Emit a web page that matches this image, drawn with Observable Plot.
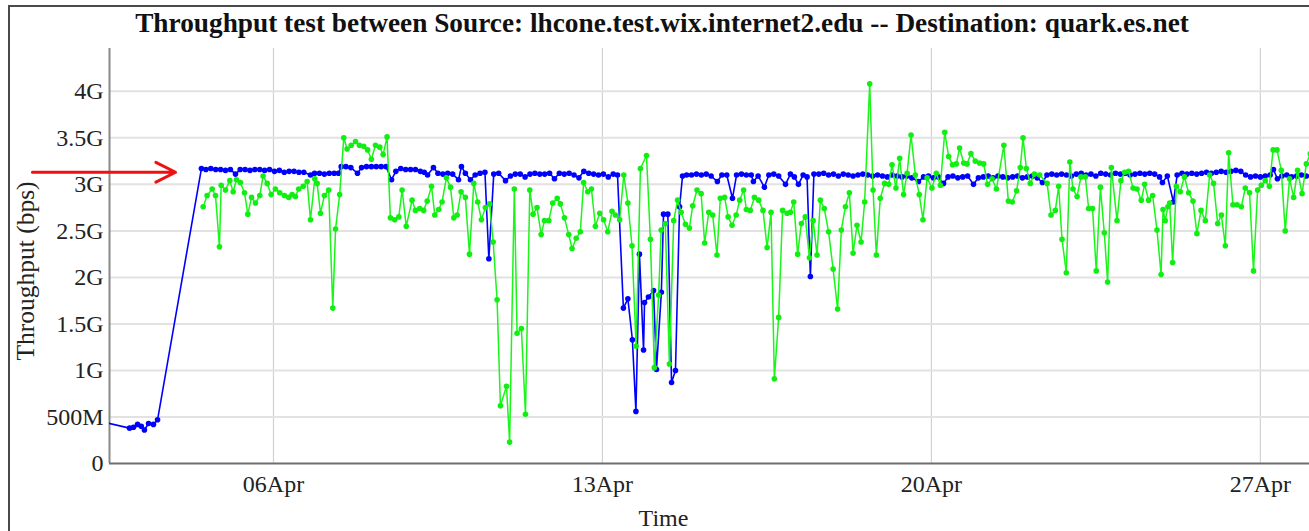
<!DOCTYPE html>
<html>
<head>
<meta charset="utf-8">
<script src="https://cdn.jsdelivr.net/npm/d3@7"></script>
<script src="https://cdn.jsdelivr.net/npm/@observablehq/plot@0.6"></script>
<style>
  html, body { margin: 0; padding: 0; background: #fff; }
  body { width: 1309px; height: 531px; position: relative; overflow: hidden; font-family: "Liberation Serif", "Times New Roman", serif; }
  #title { position: absolute; left: 0; top: 3px; width: 1324px; height: 40px; line-height: 40px; text-align: center;
           font-weight: bold; font-size: 27.3px; color: #111; white-space: nowrap; }
  #chart { position: absolute; left: 0; top: 40px; }
  #frame { position: absolute; left: 8px; top: 5px; width: 1400px; height: 524px; border-left: 2px solid #4a4a4a;
           border-top: 2px solid #4a4a4a; border-bottom: 1px solid #d8d8d8; pointer-events: none; }
</style>
</head>
<body>
<div id="title">Throughput test between Source: lhcone.test.wix.internet2.edu -- Destination: quark.es.net</div>
<div id="chart"></div>
<div id="frame"></div>
<script>
// Time origin: 02 Apr 00:00 (UTC). Every observation is [hours since origin, throughput in Gbps].
const originDate = "2019-04-02T00:00:00Z";
const visibleHours = [12.26, 625.1];

// Blue series (one direction)
const blueSeries = [
  [8,0.45],[22.5,0.38],[24.5,0.39],[26.6,0.42],[28.5,0.40],[30.1,0.36],[32.2,0.43],[34.7,0.42],[36.8,0.47],
  [59.2,3.17],[61.5,3.16],[64,3.17],[66.5,3.16],[69,3.16],[71.5,3.15],[74,3.16],[76.6,3.11],[79,3.16],[81.5,3.16],
  [84,3.15],[86.5,3.16],[89,3.16],[91.5,3.15],[94,3.16],[96.5,3.14],[99,3.15],[101.5,3.13],[104,3.14],[106.5,3.14],
  [109,3.13],[111.5,3.13],[114.9,3.10],[117,3.12],[119.5,3.12],[122,3.11],[124.5,3.12],[127,3.12],[129.2,3.12],[130.6,3.19],
  [133,3.19],[135.5,3.18],[138.9,3.12],[141,3.18],[143.5,3.19],[146,3.19],[148.5,3.19],[151,3.19],[153.5,3.19],[156.3,3.05],
  [158.5,3.14],[161,3.17],[163.5,3.16],[166,3.16],[168.5,3.16],[171,3.14],[173,3.13],[174.7,3.10],[177.7,3.18],[180,3.12],
  [182.5,3.11],[185,3.12],[187.5,3.11],[190.5,3.05],[192,3.19],[194,3.12],[196.6,3.05],[199,3.10],[201.5,3.12],[204,3.13],
  [206,2.20],[208.5,3.11],[211,3.12],[214.5,3.04],[217,3.09],[219.5,3.11],[222,3.11],[224.5,3.08],[227,3.11],[229.5,3.12],
  [232,3.11],[234.5,3.11],[237,3.12],[239.5,3.06],[242,3.12],[244.5,3.11],[247,3.12],[249.5,3.10],[252,3.07],[254.5,3.14],
  [257,3.12],[259.5,3.11],[262,3.10],[264.5,3.11],[267,3.08],[269.5,3.11],[271.7,3.10],
  [274.7,1.67],[277,1.77],[279.3,1.33],[281.1,0.56],[282.9,2.25],[285,1.22],[285.5,1.73],[287.5,1.79],[290.1,1.86],
  [291.6,1.01],[294.1,1.84],[295.2,2.68],[297.4,2.68],[299.3,0.87],[301.3,1.00],[303.4,2.76],[304.9,3.09],
  [307,3.10],[309.5,3.10],[312,3.11],[314.5,3.10],[317,3.11],[319.5,3.09],[322.7,3.03],[325,3.10],[327.5,3.10],[330.4,2.85],
  [332.5,3.10],[335,3.11],[337.5,3.10],[340,3.10],[341.1,3.03],[343.5,3.09],[346.7,2.97],[349,3.10],[351.5,3.11],[354,3.09],
  [357.5,3.00],[360,3.11],[362,3.08],[364.1,3.00],[366.5,3.10],[368.5,3.08],[370.2,2.01],[372,3.11],[374.5,3.11],[377,3.12],
  [379.5,3.10],[382,3.11],[384.5,3.09],[387,3.11],[389.5,3.10],[392,3.09],[394.5,3.10],[397,3.11],[399.5,3.10],[402,3.09],
  [404.5,3.10],[407,3.09],[409.5,3.08],[412,3.10],[414.5,3.09],[417,3.08],[419.5,3.09],[422,3.07],[425.4,3.03],[428,3.08],
  [430.5,3.09],[433,3.07],[435.5,3.08],[438.2,3.01],[440.5,3.08],[443,3.09],[445.5,3.07],[448,3.08],[450.5,3.09],[453.5,3.00],
  [456,3.07],[458.5,3.08],[461,3.09],[463.5,3.07],[466,3.09],[468.5,3.08],[471,3.07],[473.5,3.08],[476,3.09],[478.5,3.07],
  [481,3.08],[483.5,3.09],[486,3.07],[488.7,3.02],[491,3.10],[493.5,3.11],[496,3.10],[498.5,3.11],[501,3.10],[503.5,3.09],
  [506,3.11],[508.5,3.12],[511,3.10],[513.5,3.11],[516,3.09],[518.5,3.12],[521,3.11],[523.5,3.10],[526,3.12],[528.5,3.11],
  [531,3.12],[533.5,3.10],[536,3.11],[538.5,3.12],[541,3.11],[543.5,3.12],[546,3.11],[548.5,3.08],[550,3.02],[552.5,3.09],
  [555.6,2.81],[557.5,3.10],[560,3.12],[562.5,3.11],[565,3.12],[567.5,3.11],[570,3.12],[572.5,3.13],[575,3.12],[577.5,3.13],
  [580,3.14],[582.5,3.13],[585,3.14],[587.5,3.15],[590,3.14],[592.5,3.10],[595,3.08],[597.5,3.09],[600,3.08],[602.5,3.09],
  [605,3.10],[606.7,3.16],[608.7,3.06],[611,3.09],[613.5,3.10],[616,3.08],[618.5,3.09],[621,3.10],[623.5,3.09],[626,3.09],[628.5,3.09]
];

// Green series (other direction)
const greenSeries = [
  [60.1,2.76],[62.1,2.88],[64.7,2.95],[66.4,2.88],[68.4,2.33],[69.3,2.99],[71.5,2.94],[73.7,3.04],[75.4,2.92],[77.1,3.05],
  [79.1,3.02],[81.2,2.91],[82.9,2.68],[84.8,2.86],[86.8,2.80],[89.0,2.88],[90.7,3.09],[92.8,3.01],[94.8,2.89],[97.0,2.95],
  [99.2,2.91],[101.6,2.88],[103.8,2.86],[105.5,2.89],[107.2,2.87],[108.9,2.95],[111.2,2.98],[113.2,3.03],[114.9,2.62],[117.1,3.06],
  [118.3,3.01],[120.0,2.69],[122.0,2.88],[124.2,2.94],[126.3,1.67],[127.7,2.52],[129.8,2.89],[131.9,3.50],[133.6,3.38],[135.7,3.42],
  [137.9,3.46],[139.9,3.42],[142.1,3.41],[144.1,3.37],[146.0,3.27],[148.1,3.42],[150.3,3.40],[152.0,3.32],[154.0,3.51],[155.7,2.64],
  [157.9,2.62],[160.0,2.65],[161.7,2.94],[163.8,2.55],[166.8,2.83],[168.5,2.72],[170.7,2.74],[172.7,2.72],[174.5,2.82],[176.7,2.98],
  [178.4,2.67],[180.4,2.73],[182.1,2.81],[184.3,3.07],[186.4,2.97],[188.1,2.64],[189.8,2.67],[191.8,2.92],[194.0,2.86],[196.1,2.25],
  [198.3,3.01],[200.3,2.81],[202.2,2.62],[204.2,2.75],[206.4,2.79],[208.2,2.38],[210.2,1.76],[211.9,0.62],[215.0,0.83],[216.6,0.23],
  [219.0,2.95],[220.4,1.40],[222.6,1.45],[224.7,0.53],[226.9,2.94],[228.6,2.68],[230.6,2.75],[232.7,2.46],[234.4,2.61],[236.6,2.61],
  [238.6,2.80],[240.9,2.85],[242.5,2.79],[244.6,2.64],[246.8,2.46],[248.5,2.31],[250.6,2.42],[252.7,2.49],[254.4,3.02],[256.5,2.92],
  [258.4,2.95],[260.4,2.55],[262.6,2.69],[264.6,2.62],[266.7,2.49],[268.9,2.71],[270.6,2.67],[272.8,2.62],[274.9,3.10],[277.0,2.80],
  [279.1,2.34],[281.2,1.26],[283.4,3.17],[286.5,3.31],[288.5,2.41],[290.5,1.03],[292.7,1.81],[294.0,2.51],[296.1,2.58],[298.2,1.07],
  [300.4,2.61],[302.4,2.83],[304.2,2.70],[306.4,2.57],[308.4,2.53],[310.1,2.77],[312.3,2.94],[314.4,2.90],[316.2,2.37],[318.3,2.70],
  [320.3,2.67],[322.5,2.24],[324.2,2.85],[326.4,2.86],[328.2,2.65],[330.2,2.56],[332.3,2.67],[334.1,2.83],[336.1,2.94],[337.5,2.73],
  [339.5,2.72],[341.6,2.86],[343.8,2.83],[346.0,2.72],[348.1,2.32],[350.1,2.70],[351.8,0.91],[354.0,1.57],[356.0,2.72],[358.3,2.69],
  [360.0,2.70],[361.7,2.81],[363.7,2.25],[365.6,2.58],[367.6,2.65],[369.7,2.21],[371.6,2.61],[373.6,2.24],[375.3,2.83],[377.3,2.74],
  [379.5,2.49],[381.8,2.09],[384.1,1.66],[386.0,2.51],[388.1,2.76],[390.1,2.91],[392.0,2.26],[394.0,2.56],[396.1,2.38],[397.9,2.81],
  [400.5,4.08],[402.2,2.94],[403.9,2.24],[405.9,2.85],[408.1,3.01],[410.2,3.00],[411.9,3.21],[413.9,2.96],[415.8,3.28],[417.8,2.89],
  [419.6,3.12],[421.6,3.53],[423.8,3.10],[425.8,2.89],[427.7,2.62],[429.8,3.07],[432.3,2.96],[434.5,3.12],[436.6,2.99],[438.8,3.56],
  [440.8,3.30],[442.8,3.21],[444.7,3.22],[446.4,3.39],[448.5,3.23],[450.2,3.22],[452.2,3.33],[454.4,3.25],[456.6,3.23],[458.7,3.22],
  [460.7,3.00],[463.0,3.06],[465.2,2.95],[469.0,3.42],[471.3,2.82],[473.3,2.81],[475.5,2.93],[477.4,3.18],[478.8,3.50],[480.5,3.17],
  [482.5,3.01],[484.6,3.11],[487.3,3.10],[491.1,3.01],[493.1,2.67],[495.3,2.72],[497.0,2.98],[498.7,2.41],[500.9,2.05],[502.7,3.24],
  [504.3,2.95],[506.4,2.87],[508.4,3.08],[510.6,3.08],[512.3,2.74],[514.3,2.74],[516.2,2.07],[518.3,2.97],[520.3,2.48],[522.0,1.95],
  [523.9,3.18],[526.8,2.61],[528.8,3.04],[530.7,3.13],[532.7,3.14],[535.0,2.96],[537.0,2.95],[539.2,2.83],[540.9,3.00],[542.9,2.83],
  [545.0,2.88],[547.2,2.51],[549.3,2.03],[550.3,2.73],[551.4,2.61],[552.8,2.76],[553.7,2.80],[555.2,2.16],[557.1,2.98],[559.1,2.92],
  [561.2,3.08],[563.4,2.91],[565.6,2.82],[567.6,2.47],[569.7,2.72],[571.9,2.61],[574.1,3.10],[576.1,3.01],[578.2,2.58],[580.1,2.67],
  [582.1,2.34],[583.8,3.34],[586.0,2.78],[588.1,2.78],[590.3,2.76],[592.3,2.96],[594.5,2.91],[596.5,2.07],[598.6,2.94],[600.5,2.99],
  [602.5,3.04],[604.6,2.98],[606.5,3.37],[608.5,3.37],[610.7,3.15],[612.7,2.50],[614.9,3.06],[617.0,2.86],[619.0,3.15],[621.3,2.90],
  [623.5,3.22],[625.5,3.33],[627.5,3.38]
];

const yTickValues = [0, 0.5, 1, 1.5, 2, 2.5, 3, 3.5, 4];
const yTickLabels = ["0", "500M", "1G", "1.5G", "2G", "2.5G", "3G", "3.5G", "4G"];
const xTickDays = ["2019-04-06", "2019-04-13", "2019-04-20", "2019-04-27"];
const xTickLabels = ["06Apr", "13Apr", "20Apr", "27Apr"];
const yDomain = [0, 4.46];

// Red annotation arrow (hours since origin, level in Gbps)
const arrowHours = [-27.1, 46.0];
const arrowLevel = 3.13;

const origin = new Date(originDate).getTime();
const toDate = h => new Date(origin + h * 3600000);
const rows = s => s.map(([h, v]) => ({t: toDate(h), v}));
const blue = rows(blueSeries);
const green = rows(greenSeries);
const xTicks = xTickDays.map(d => new Date(d + "T00:00:00Z"));
const xDomain = visibleHours.map(toDate);

const chart = Plot.plot({
  width: 1309,
  height: 491,
  marginLeft: 109,
  marginRight: 0,
  marginTop: 8,
  marginBottom: 68,
  style: {fontFamily: "'Liberation Serif', 'Times New Roman', serif", fontSize: "24px", color: "#222", background: "transparent"},
  x: {type: "utc", domain: xDomain},
  y: {domain: yDomain},
  marks: [
    Plot.gridX(xTicks, {stroke: "#d2d2d2", strokeOpacity: 1, strokeWidth: 1.2}),
    Plot.gridY(yTickValues.slice(1), {stroke: "#e2e2e2", strokeOpacity: 1, strokeWidth: 2}),
    Plot.axisY({ticks: yTickValues, tickFormat: (d, i) => yTickLabels[i], tickSize: 0, tickPadding: 6, fontSize: 24, label: null, fill: "#222"}),
    Plot.axisX({ticks: xTicks, tickFormat: (d, i) => xTickLabels[i], tickSize: 0, tickPadding: 11, fontSize: 24, label: null, fill: "#222"}),
    Plot.ruleX([xDomain[0]], {stroke: "#8a8a8a", strokeWidth: 2}),
    Plot.ruleY([0], {stroke: "#6e6e6e", strokeWidth: 2}),
    Plot.line(blue, {x: "t", y: "v", stroke: "#0000ff", strokeWidth: 1.6, clip: true}),
    Plot.dot(blue, {x: "t", y: "v", r: 2.8, fill: "#0000ff", clip: true}),
    Plot.line(green, {x: "t", y: "v", stroke: "#1af51a", strokeWidth: 1.5, clip: true}),
    Plot.dot(green, {x: "t", y: "v", r: 2.8, fill: "#11ee11", clip: true}),
    Plot.arrow([{x1: toDate(arrowHours[0]), x2: toDate(arrowHours[1]), y: arrowLevel}],
      {x1: "x1", x2: "x2", y1: "y", y2: "y", stroke: "#ee1111", strokeWidth: 3, headLength: 11, headAngle: 53}),
    Plot.text(["Throughput (bps)"], {frameAnchor: "left", textAnchor: "middle", lineAnchor: "middle", rotate: -90, dx: -84, dy: 15, fontSize: 25.5, fill: "#222"}),
    Plot.text(["Time"], {frameAnchor: "bottom", textAnchor: "middle", lineAnchor: "middle", dx: -46, dy: 55, fontSize: 24, fill: "#222"})
  ]
});
document.getElementById("chart").appendChild(chart);
</script>
</body>
</html>
